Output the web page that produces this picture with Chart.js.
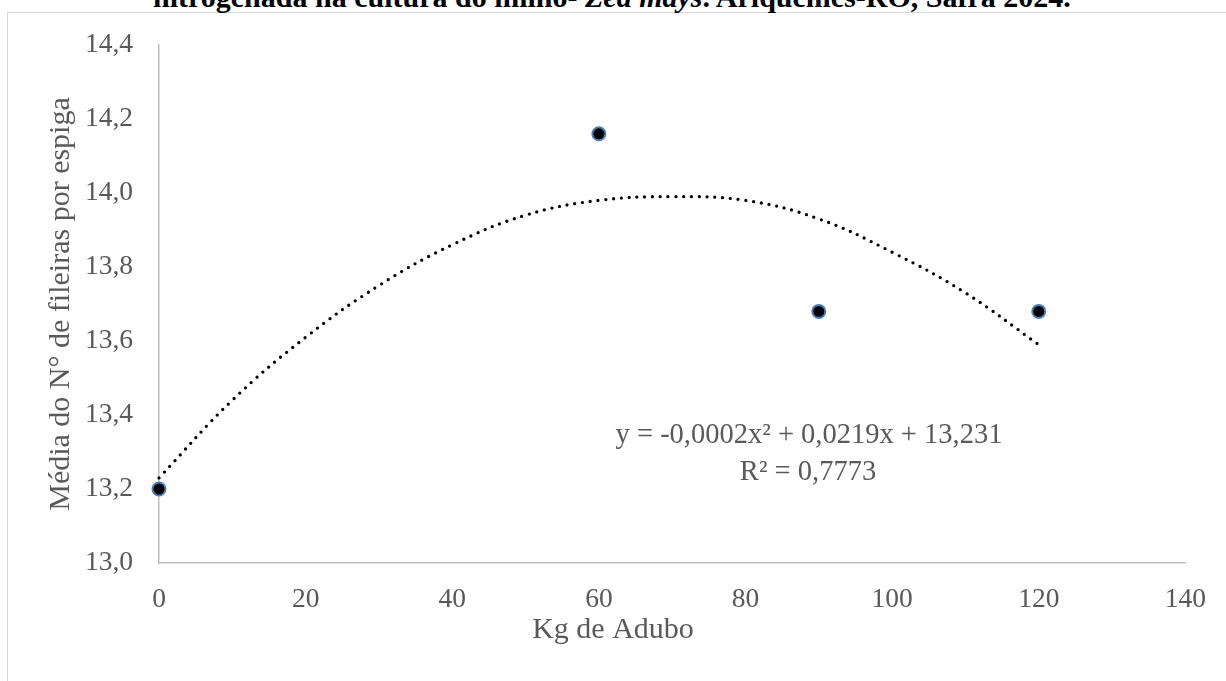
<!DOCTYPE html>
<html>
<head>
<meta charset="utf-8">
<script src="https://cdn.jsdelivr.net/npm/chart.js@4.4.1/dist/chart.umd.min.js"></script>
<style>
  html, body { margin: 0; padding: 0; background: #fff; overflow: hidden; }
  #wrap { position: relative; width: 1226px; height: 681px; overflow: hidden; }
  #frame { position: absolute; left: 7px; top: 12px; width: 1400px; height: 900px; border: 1.5px solid #d9d9d9; }
  #title { position: absolute; left: 153px; top: -18px; font: bold 30px "Liberation Serif", "Times New Roman", serif;
           line-height: 30px; color: #000; white-space: nowrap; }
  canvas { position: absolute; left: 0; top: 0; }
</style>
</head>
<body>
<div id="wrap">
  <div id="frame"></div>
  <div id="title">nitrogenada na cultura do milho- <i>Zea mays</i>. Ariquemes-RO, Safra 2024.</div>
  <canvas id="chart" width="1226" height="681"></canvas>
</div>
<script>
// observed means
const doses = [0, 60, 90, 120];
const fileiras = [13.2, 14.16, 13.68, 13.68];

// polynomial trendline
const trendX = [0, 10, 20, 30, 40, 50, 60, 70, 80, 90, 100, 110, 120];
const trendY = [13.23, 13.44, 13.61, 13.75, 13.86, 13.94, 13.98, 13.99, 13.98, 13.93, 13.84, 13.73, 13.59];

const xTicks = [0, 20, 40, 60, 80, 100, 120, 140];
const yTicks = [13.0, 13.2, 13.4, 13.6, 13.8, 14.0, 14.2, 14.4];
const yTickLabels = ['13,0', '13,2', '13,4', '13,6', '13,8', '14,0', '14,2', '14,4'];

const eqLine1 = 'y = -0,0002x² + 0,0219x + 13,231';
const eqLine2 = 'R² = 0,7773';

const serif = '"Liberation Serif", "Times New Roman", serif';
const grey = '#595959';

const textPlugin = {
  id: 'extraText',
  afterDraw(chart) {
    const ctx = chart.ctx;
    ctx.save();
    ctx.fillStyle = grey;
    ctx.textAlign = 'center';
    ctx.textBaseline = 'alphabetic';
    ctx.font = '30px ' + serif;
    ctx.fillText('Kg de Adubo', 613, 638);
    ctx.font = '28.5px ' + serif;
    ctx.fillText(eqLine1, 809, 443);
    ctx.fillText(eqLine2, 808, 480);
    ctx.restore();
  }
};

new Chart(document.getElementById('chart'), {
  type: 'scatter',
  data: {
    datasets: [
      {
        label: 'Média',
        data: doses.map((d, i) => ({ x: d, y: fileiras[i] })),
        pointRadius: 6.5,
        pointBackgroundColor: '#000',
        pointBorderColor: '#4a7ebb',
        pointBorderWidth: 2,
        showLine: false,
        clip: false
      },
      {
        label: 'Polinomial',
        data: trendX.map((d, i) => ({ x: d, y: trendY[i] })),
        showLine: true,
        pointRadius: 0,
        borderColor: '#000',
        borderWidth: 3.3,
        borderDash: [0, 7.8],
        borderCapStyle: 'round',
        tension: 0.4,
        clip: false
      }
    ]
  },
  options: {
    responsive: false,
    animation: false,
    layout: { padding: { left: 8, top: 45, right: 37, bottom: 0 } },
    plugins: { legend: { display: false }, tooltip: { enabled: false } },
    scales: {
      x: {
        type: 'linear', min: 0, max: 140,
        afterBuildTicks: s => { s.ticks = xTicks.map(v => ({ value: v })); },
        afterFit: s => { s.height = 118; },
        ticks: { color: grey, font: { family: serif, size: 27.5 }, padding: 20, maxRotation: 0, autoSkip: false },
        grid: { display: false, drawTicks: false },
        border: { color: '#bfbfbf', width: 1.5 }
      },
      y: {
        min: 13.0, max: 14.4,
        afterBuildTicks: s => { s.ticks = yTicks.map(v => ({ value: v })); },
        afterFit: s => { s.width = 151; },
        ticks: {
          color: grey, font: { family: serif, size: 27.5 }, padding: 26, autoSkip: false,
          callback: (v, i) => yTickLabels[i]
        },
        grid: { display: false, drawTicks: false },
        border: { color: '#bfbfbf', width: 1.5 },
        title: {
          display: true, text: 'Média do N° de fileiras por espiga',
          color: grey, font: { family: serif, size: 30 }, padding: { top: 35, bottom: 0 }
        }
      }
    }
  },
  plugins: [textPlugin]
});
</script>
</body>
</html>
